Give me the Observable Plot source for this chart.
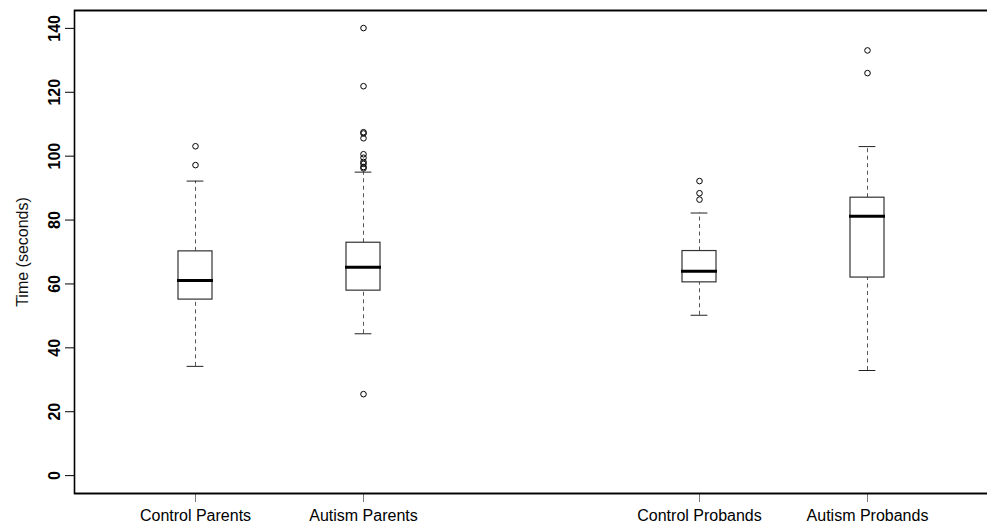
<!DOCTYPE html>
<html>
<head>
<meta charset="utf-8">
<script src="https://cdn.jsdelivr.net/npm/d3@7"></script>
<script src="https://cdn.jsdelivr.net/npm/@observablehq/plot@0.6"></script>
<style>
  html, body { margin: 0; padding: 0; background: white; overflow: hidden; }
</style>
</head>
<body>
<div id="chart"></div>
<script>
// ---- data ----
const groups = ["Control Parents", "Autism Parents", "Control Probands", "Autism Probands"];
const lowerWhisker = [34.2, 44.4, 50.2, 32.9];
const q1 = [55.1, 57.9, 60.5, 62.0];
const median = [61.1, 65.2, 64.0, 81.2];
const q3 = [70.2, 72.9, 70.3, 87.0];
const upperWhisker = [92.2, 95.0, 82.2, 103.0];
const outliers = [
  [103.1, 97.2],
  [140.1, 121.9, 107.5, 107.1, 105.6, 100.6, 99.5, 98.2, 97.6, 96.6, 96.2, 25.5],
  [92.2, 88.4, 86.4],
  [133.1, 126.0]
];
const yTicks = [0, 20, 40, 60, 80, 100, 120, 140];
const yLabel = "Time (seconds)";

// ---- tables built from the arrays ----
const boxes = groups.map((g, i) => ({
  group: g, lo: lowerWhisker[i], q1: q1[i], med: median[i], q3: q3[i], hi: upperWhisker[i]
}));
const outlierRows = groups.flatMap((g, i) => outliers[i].map(v => ({group: g, value: v})));
const spacer = " ";
const xDomain = [groups[0], groups[1], spacer, groups[2], groups[3]];
const yDomain = [-5.6, 145.6];

const font = "'Liberation Sans', Arial, Helvetica, sans-serif";

const chart = Plot.plot({
  width: 987,
  height: 524,
  marginLeft: 74,
  marginRight: 0,
  marginTop: 10,
  marginBottom: 31,
  style: {fontFamily: font, fontSize: "16px", background: "white", color: "black"},
  x: {type: "band", domain: xDomain, range: [176, 886], paddingInner: 0.796, paddingOuter: 0, align: 0.5},
  y: {domain: yDomain},
  marks: [
    // whiskers (dashed)
    Plot.ruleX(boxes, {x: "group", y1: "q3", y2: "hi", stroke: "#555", strokeWidth: 1, strokeDasharray: "4,3.5"}),
    Plot.ruleX(boxes, {x: "group", y1: "lo", y2: "q1", stroke: "#555", strokeWidth: 1, strokeDasharray: "4,3.5"}),
    // whisker caps
    Plot.tickY(boxes, {x: "group", y: "hi", stroke: "#222", strokeWidth: 1, insetLeft: 8.6, insetRight: 8.6}),
    Plot.tickY(boxes, {x: "group", y: "lo", stroke: "#222", strokeWidth: 1, insetLeft: 8.6, insetRight: 8.6}),
    // boxes
    Plot.barY(boxes, {x: "group", y1: "q1", y2: "q3", fill: "white", stroke: "#333", strokeWidth: 1.2}),
    // medians
    Plot.tickY(boxes, {x: "group", y: "med", stroke: "black", strokeWidth: 3, insetLeft: -1, insetRight: -1}),
    // outliers
    Plot.dot(outlierRows, {x: "group", y: "value", r: 2.8, stroke: "black", strokeWidth: 1, fill: "none"}),
    // axes
    Plot.axisY({
      ticks: yTicks, tickSize: 9, tickPadding: 6, tickRotate: -90,
      fontWeight: "bold", fontSize: 16, label: null
    }),
    Plot.text([yLabel], {
      text: d => d, frameAnchor: "left", rotate: -90, dx: -47,
      textAnchor: "middle", lineAnchor: "bottom", fontSize: 16, fontWeight: "normal", fill: "#111"
    }),
    Plot.axisX({
      ticks: groups, tickSize: 9, tickPadding: 7, stroke: "#777", fontSize: 16, label: null
    }),
    // box sides: top and bottom edges at the y-domain ends, left edge drawn by the frame's left inset
    Plot.ruleY(yDomain, {stroke: "black", strokeWidth: 1.6}),
    Plot.frame({stroke: "black", strokeWidth: 1.6, insetRight: -20})
  ]
});

document.getElementById("chart").appendChild(chart);
</script>
</body>
</html>
